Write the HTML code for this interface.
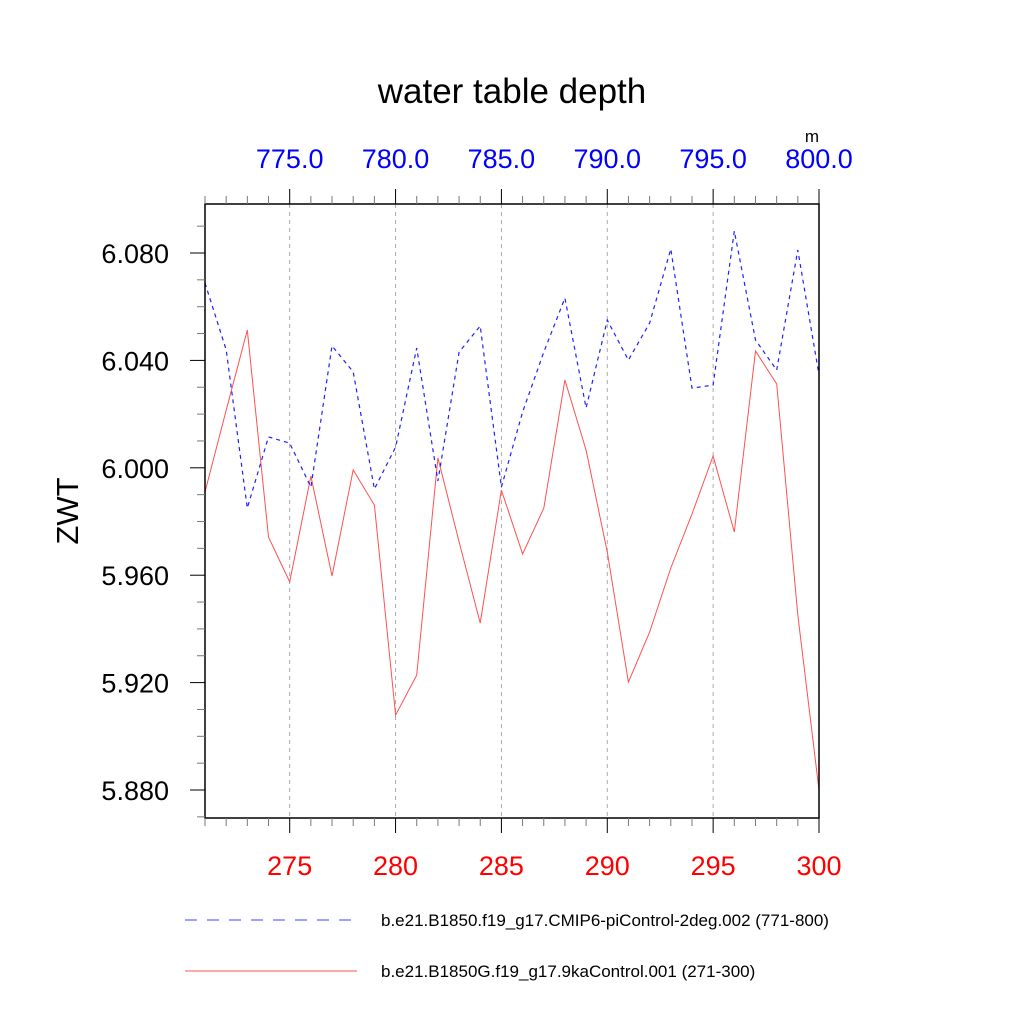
<!DOCTYPE html>
<html><head><meta charset="utf-8"><style>
html,body{margin:0;padding:0;background:#fff}
svg{display:block;font-family:"Liberation Sans",sans-serif}
</style></head><body>
<svg id="chart" width="1024" height="1024" viewBox="0 0 1024 1024">
<text x="512" y="103" font-size="35" text-anchor="middle">water table depth</text>
<text x="812" y="142" font-size="17" text-anchor="middle">m</text>
<text transform="translate(78,511) rotate(-90)" font-size="31" text-anchor="middle">ZWT</text>
<g id="grid"></g>
<g id="series"></g>
<rect x="205" y="204" width="614" height="614" fill="none" stroke="#000" stroke-width="1.5"/>
<g id="axes"></g>
<g>
<line x1="185" y1="920" x2="355" y2="920" stroke="#4040ff" stroke-width="1" stroke-dasharray="12,10"/>
<text x="381" y="926" font-size="17">b.e21.B1850.f19_g17.CMIP6-piControl-2deg.002 (771-800)</text>
<line x1="185" y1="971" x2="357" y2="971" stroke="#ff5050" stroke-width="1"/>
<text x="381" y="977" font-size="17">b.e21.B1850G.f19_g17.9kaControl.001 (271-300)</text>
</g>
</svg>
<script>
const yearsBottom = [271,272,273,274,275,276,277,278,279,280,281,282,283,284,285,286,287,288,289,290,291,292,293,294,295,296,297,298,299,300];
const blueValues = [6.0688,6.0439,5.9850,6.0115,6.0092,5.9928,6.0454,6.0357,5.9921,6.0077,6.0446,5.9951,6.0431,6.0528,5.9928,6.0208,6.0431,6.0632,6.0223,6.0550,6.0401,6.0539,6.0815,6.0297,6.0308,6.0882,6.0476,6.0364,6.0811,6.0346];
const redValues = [5.9910,6.0215,6.0513,5.9742,5.9575,5.9969,5.9597,5.9992,5.9861,5.9079,5.9228,6.0037,5.9724,5.9422,5.9917,5.9679,5.9850,6.0327,6.0066,5.9686,5.9202,5.9388,5.9627,5.9828,6.0044,5.9761,6.0435,6.0312,5.9452,5.8800];
const bottomTicks = [275,280,285,290,295,300];
const topTicks = [775,780,785,790,795,800];
const yTicks = [5.880,5.920,5.960,6.000,6.040,6.080];
const NS='http://www.w3.org/2000/svg';
const L=205,R=819,T=204,B=818;
function xB(v){return L+(v-271)*(R-L)/29;}
function xT(v){return L+(v-771)*(R-L)/29;}
function yS(v){return 253+(6.080-v)*2685;}
function mk(tag,attrs,parent){const e=document.createElementNS(NS,tag);for(const k in attrs)e.setAttribute(k,attrs[k]);parent.appendChild(e);return e;}
const grid=document.getElementById('grid'),axes=document.getElementById('axes'),series=document.getElementById('series');
bottomTicks.forEach(v=>{const x=xB(v);
 const g=mk('line',{x1:x,y1:T,x2:x,y2:B,stroke:'#aaa','stroke-width':1,'stroke-dasharray':'4,4'},grid);
 
 
 const t=mk('text',{x:x,y:875,'font-size':27,fill:'#ff0000','text-anchor':'middle'},axes);
 t.textContent=v;
 
 
});
topTicks.forEach(v=>{const x=xT(v);
 const t=mk('text',{x:x,y:168,'font-size':27,fill:'#0000ff','text-anchor':'middle'},axes);
 t.textContent=v.toFixed(1);
 
 
});
for(let yr=271;yr<=300;yr++){const x=xB(yr);const major=(yr%5===0);
 const len=major?15:8;
 const a=mk('line',{x1:x,y1:B,x2:x,y2:B+len,stroke:major?'#000':'#777','stroke-width':1},axes);
 
 
 const b=mk('line',{x1:x,y1:T,x2:x,y2:T-len,stroke:major?'#000':'#777','stroke-width':1},axes);
 
 
}
for(let i=0;i<=22;i++){const v=5.870+i*0.01;const y=yS(v);if(y<T-0.5||y>B+0.5)continue;
 const major=Math.abs(((v-5.880)/0.04)-Math.round((v-5.880)/0.04))<0.01;
 const len=major?15:8;
 const a=mk('line',{x1:L,y1:y,x2:L-len,y2:y,stroke:major?'#000':'#777','stroke-width':1},axes);
 
 
}
yTicks.forEach(v=>{const y=yS(v);
 const t=mk('text',{x:169,y:y+10,'font-size':27,'text-anchor':'end'},axes);
 t.textContent=v.toFixed(3);
 
 
});
function path(vals){return vals.map((v,i)=>(i?'L':'M')+xB(yearsBottom[i]).toFixed(1)+','+yS(v).toFixed(1)).join(' ');}
const red=mk('path',{d:path(redValues),fill:'none',stroke:'#ff5050','stroke-width':1},series);


const blue=mk('path',{d:path(blueValues),fill:'none',stroke:'#2020ff','stroke-width':1.2,'stroke-dasharray':'4,4'},series);


</script>
</body></html>
